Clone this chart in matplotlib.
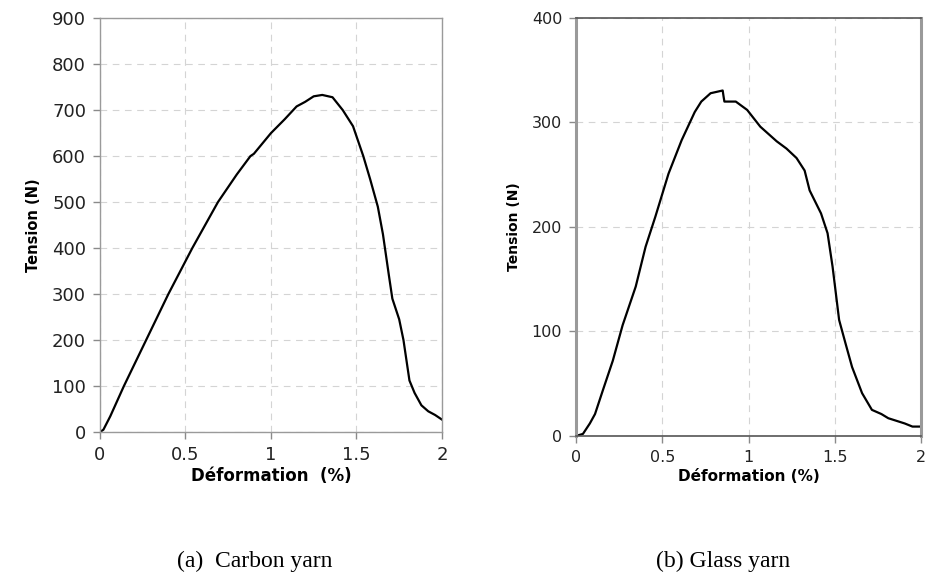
import matplotlib.pyplot as plt

# carbon yarn: deformation (%) vs tension (N)
carbon_x = [0, 0.02, 0.06, 0.14, 0.27, 0.40, 0.54, 0.69, 0.80, 0.88, 0.90, 1.0, 1.08, 1.15, 1.20,
            1.25, 1.30, 1.36, 1.42, 1.48, 1.54, 1.58, 1.625, 1.655, 1.69, 1.71, 1.75, 1.775, 1.81,
            1.84, 1.88, 1.92, 1.96, 2.0]
carbon_y = [0, 5, 34, 100, 200, 300, 400, 500, 560, 600, 605, 650, 680, 708, 718,
            730, 733, 728, 700, 665, 600, 550, 490, 430, 340, 290, 245, 200, 112,
            85, 58, 45, 37, 27]

# glass yarn
glass_x = [0, 0.04, 0.08, 0.11, 0.156, 0.213, 0.27, 0.346, 0.403, 0.46, 0.536, 0.612, 0.688,
           0.726, 0.78, 0.85, 0.855, 0.86, 0.926, 0.992, 1.068, 1.163, 1.22, 1.278, 1.325,
           1.354, 1.42, 1.458, 1.487, 1.525, 1.563, 1.60, 1.658, 1.715, 1.77, 1.81, 1.905,
           1.95, 2.0]
glass_y = [0, 2, 12, 21, 44, 72, 106, 143, 181, 210, 251, 283, 310,
           320, 328, 330.6, 325, 320, 320, 312, 296, 282, 275, 266, 254,
           235, 213, 194, 162, 111, 88, 66, 41, 25, 21, 17, 12,
           9, 9]

plt.rcParams['font.family'] = ['DejaVu Sans']
fig = plt.figure(figsize=(9.3, 5.78), dpi=100)

ax1 = fig.add_axes([0.1075, 0.2526, 0.3677, 0.716])
ax2 = fig.add_axes([0.6194, 0.2457, 0.371, 0.7232])

def style(ax, ymax, ystep, spine_w, lsize):
    ax.set_xlim(0, 2)
    ax.set_ylim(0, ymax)
    ax.set_xticks([0, 0.5, 1, 1.5, 2])
    ax.set_xticklabels(['0', '0.5', '1', '1.5', '2'])
    ax.set_yticks(range(0, ymax + 1, ystep))
    ax.grid(True, color='#d4d4d4', linestyle=(0, (6, 5)), linewidth=0.8)
    ax.set_axisbelow(True)
    for s in ax.spines.values():
        s.set_color('#9a9a9a')
        s.set_linewidth(spine_w)
    ax.tick_params(axis='both', direction='out', length=5, width=1, color='#8a8a8a',
                   labelsize=lsize, labelcolor='#222222', pad=5)

ax1.plot(carbon_x, carbon_y, color='black', linewidth=1.6)
style(ax1, 900, 100, 1.0, 13)
ax1.set_xlabel('Déformation  (%)', fontsize=12, fontweight='bold', labelpad=2)
ax1.set_ylabel('Tension (N)', fontsize=10.5, fontweight='bold', labelpad=8)

ax2.plot(glass_x, glass_y, color='black', linewidth=1.6)
style(ax2, 400, 100, 2.2, 11.5)
ax2.spines['top'].set_color('#555555')
ax2.spines['top'].set_linewidth(1.2)
ax2.spines['bottom'].set_color('#555555')
ax2.spines['bottom'].set_linewidth(1.2)
ax2.set_xlabel('Déformation (%)', fontsize=11, fontweight='bold', labelpad=3)
ax2.set_ylabel('Tension (N)', fontsize=10, fontweight='bold', labelpad=8)

fig.text(0.274, 0.019, '(a)  Carbon yarn', fontsize=17, family='Liberation Serif', ha='center')
fig.text(0.778, 0.019, '(b) Glass yarn', fontsize=17, family='Liberation Serif', ha='center')

fig.savefig('out.png', dpi=100)
